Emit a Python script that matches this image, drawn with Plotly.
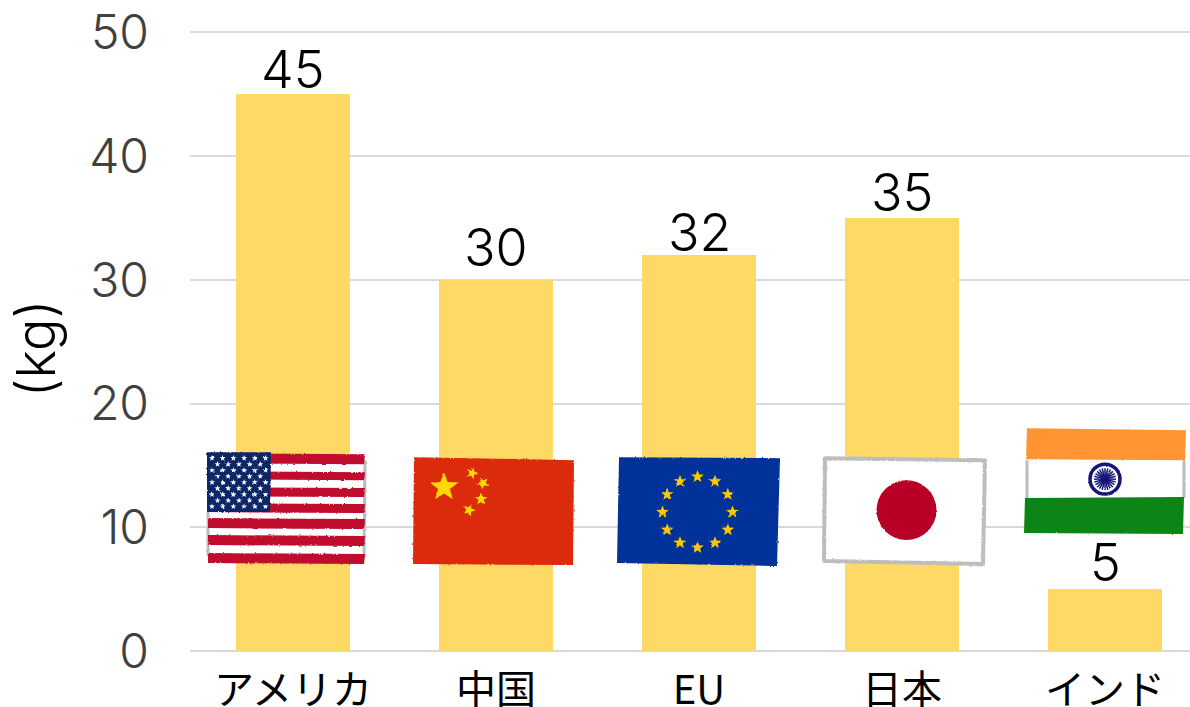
import base64, math
import plotly.graph_objects as go

categories = ["アメリカ", "中国", "EU", "日本", "インド"]
values = [45, 30, 32, 35, 5]
label_shift = [-9, -1, -11, -8, -7]
y_ticks = [0, 10, 20, 30, 40, 50]
y_top = 50.2
axis_title = "(kg)"
BAR = "#FFD966"
W, H = 1190, 707
L, B = 190, 56
T = 32 - 0.2 * 619 / 50
PW, PH = W - L, H - T - B
NUM_FONT = "Inter, 'Noto Sans CJK JP'"


def star(cx, cy, r, fill, rot=0):
    pts = []
    for i in range(10):
        rr = r if i % 2 == 0 else r * 0.42
        a = math.radians(-90 + rot + i * 36)
        pts.append(f"{cx + rr * math.cos(a):.2f},{cy + rr * math.sin(a):.2f}")
    return f'<polygon points="{" ".join(pts)}" fill="{fill}"/>'


def wrap(x0, y0, x1, y1, body, rough=2.4):
    w, h = x1 - x0, y1 - y0
    svg = (
        f'<svg xmlns="http://www.w3.org/2000/svg" width="{w}" height="{h}" viewBox="{x0} {y0} {w} {h}">'
        f'<defs><filter id="r" x="-5%" y="-5%" width="110%" height="110%">'
        f'<feTurbulence type="fractalNoise" baseFrequency="0.5" numOctaves="2" seed="3"/>'
        f'<feDisplacementMap in="SourceGraphic" scale="{rough}" xChannelSelector="R" yChannelSelector="G"/>'
        f'</filter></defs><g filter="url(#r)">{body}</g></svg>'
    )
    return "data:image/svg+xml;base64," + base64.b64encode(svg.encode()).decode()


def us_flag():
    s = '<polygon points="207,453 366,455 364,563 208,559" fill="#fff"/>'
    s += '<path d="M208,512V556 M365,460 L364,558" stroke="#bbb" stroke-width="3" fill="none"/>'
    for y0, y1 in [(453, 463), (471, 479), (487, 496), (503, 512), (518, 528), (535, 545), (553, 563)]:
        s += f'<polygon points="208,{y0} 365,{y0 + 1} 364,{y1 + 1} 208,{y1}" fill="#C0082F"/>'
    s += '<polygon points="207,452 271,452 270,512 207,512" fill="#0A2768"/>'
    for r in range(9):
        n = 6 if r % 2 == 0 else 5
        x0 = 212 if r % 2 == 0 else 217.5
        for c in range(n):
            s += star(x0 + c * 10.7, 458 + r * 6.05, 3.1, "#fff")
    return wrap(200, 445, 372, 570, s)


def cn_flag():
    s = '<polygon points="414,457 574,460 573,565 413,564" fill="#DC2A0A"/>'
    s += star(444, 487, 15, "#FFD800", 0)
    for x, y, rot in [(472, 473, 20), (483, 483, 45), (481, 499, 0), (469, 510, 20)]:
        s += star(x, y, 6.5, "#FFD800", rot)
    return wrap(407, 451, 580, 571, s)


def eu_flag():
    s = '<polygon points="619,457 780,458 777,566 617,563" fill="#00309A"/>'
    for i in range(12):
        a = math.radians(i * 30)
        s += star(697.5 + 35 * math.sin(a), 512 - 35.5 * math.cos(a), 6.6, "#FFC800")
    return wrap(611, 451, 786, 572, s)


def jp_flag():
    s = ('<polygon points="825,458 985,460 983,564 824,561" fill="#fff" stroke="#BDBDBD" '
         'stroke-width="4" stroke-linejoin="round"/>')
    s += '<ellipse cx="906.5" cy="510" rx="30" ry="30" fill="#B80026"/>'
    return wrap(816, 450, 992, 572, s)


def in_flag():
    s = '<polygon points="1026,459 1185,459 1184,499 1025,499" fill="#fff"/>'
    s += '<path d="M1027,460V498 M1184,460V498" stroke="#bbb" stroke-width="3" fill="none"/>'
    s += '<polygon points="1027,428 1186,430 1185,460 1026,459" fill="#FF9430"/>'
    s += '<polygon points="1025,498 1184,497 1183,534 1024,533" fill="#118414"/>'
    s += '<circle cx="1105" cy="479" r="15" fill="#fff" stroke="#14147A" stroke-width="3.5"/>'
    s += '<circle cx="1105" cy="479" r="4" fill="#14147A"/>'
    for i in range(24):
        a = math.radians(i * 15)
        s += (f'<line x1="1105" y1="479" x2="{1105 + 11 * math.cos(a):.2f}" y2="{479 + 11 * math.sin(a):.2f}" '
              'stroke="#14147A" stroke-width="1.5"/>')
    return wrap(1018, 422, 1190, 540, s, 1.8)


flag_boxes = [
    (us_flag(), 200, 445, 372, 570),
    (cn_flag(), 407, 451, 580, 571),
    (eu_flag(), 611, 451, 786, 572),
    (jp_flag(), 816, 450, 992, 572),
    (in_flag(), 1018, 422, 1190, 540),
]
images = [
    dict(source=src, xref="paper", yref="paper", x=(x0 - L) / PW, y=1 - (y0 - T) / PH,
         sizex=(x1 - x0) / PW, sizey=(y1 - y0) / PH, sizing="stretch",
         xanchor="left", yanchor="top", layer="above")
    for src, x0, y0, x1, y1 in flag_boxes
]

annotations = [
    dict(x=c, y=v, xref="x", yref="y", text=str(v), showarrow=False, yanchor="bottom", yshift=s,
         font=dict(family=NUM_FONT, size=52, color="#000", weight=300))
    for c, v, s in zip(categories, values, label_shift)
]
annotations.append(dict(
    x=(35 - L) / PW, y=1 - (349 - T) / PH, xref="paper", yref="paper", text=axis_title, textangle=-90,
    showarrow=False, xanchor="center", yanchor="middle",
    font=dict(family=NUM_FONT, size=54, color="#000", weight=300),
))

r0 = -103 / 203
fig = go.Figure(go.Bar(
    x=categories, y=values, width=0.557, marker=dict(color=BAR, line=dict(width=0)),
))
fig.update_layout(
    width=W, height=H, autosize=False, showlegend=False,
    margin=dict(l=L, r=0, t=T, b=B, pad=0),
    paper_bgcolor="#fff", plot_bgcolor="#fff", images=images, annotations=annotations, bargap=0,
    xaxis=dict(
        type="category", range=[r0, r0 + PW / 203], showgrid=False, zeroline=False,
        showline=False, ticks="", ticklabelstandoff=12, automargin=False,
        tickfont=dict(family="'Noto Sans CJK JP'", size=40, color="#000"),
    ),
    yaxis=dict(
        range=[0, y_top], tickvals=y_ticks, showgrid=True, gridcolor="#D9D9D9", gridwidth=2,
        zeroline=True, zerolinecolor="#D9D9D9", zerolinewidth=2, showline=False, ticks="",
        ticklabelstandoff=40, automargin=False,
        tickfont=dict(family=NUM_FONT, size=48, color="#404040", weight=300),
    ),
)
fig.write_html("out.html", config=dict(displayModeBar=False),
               post_script="document.body.style.margin='0';document.documentElement.style.overflow='hidden';")
